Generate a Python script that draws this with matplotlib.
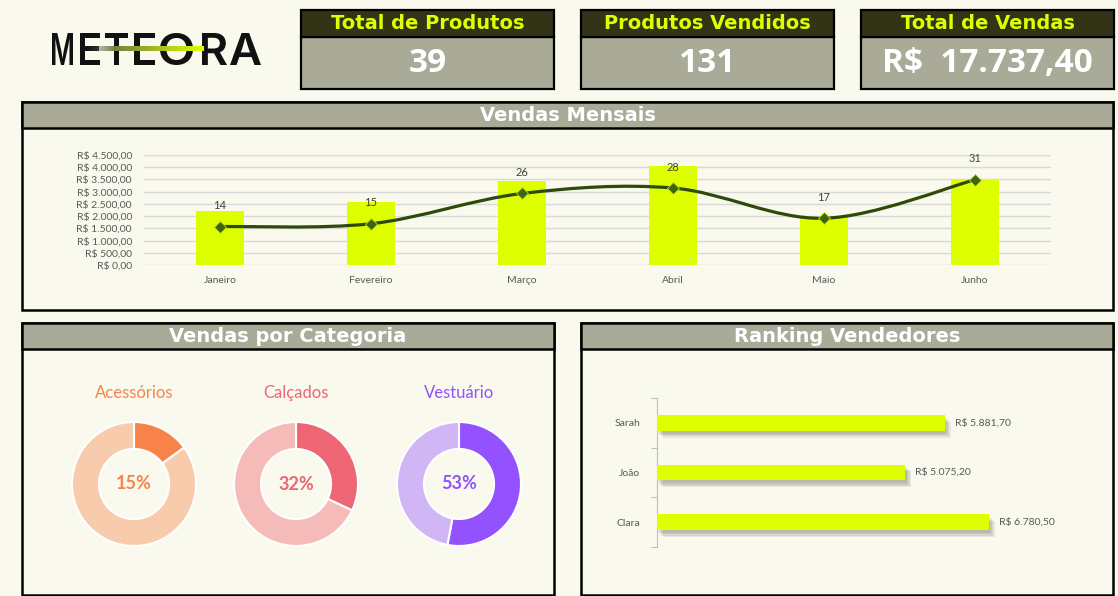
import numpy as np
import matplotlib
matplotlib.use("Agg")
from matplotlib import pyplot as plt
from matplotlib.patches import Rectangle, PathPatch
from matplotlib.path import Path
from matplotlib.textpath import TextPath
from matplotlib.font_manager import FontProperties
from matplotlib.transforms import Affine2D
from matplotlib import patheffects as pe

# dados do painel
total_produtos = "39"
produtos_vendidos = "131"
total_vendas = "R$  17.737,40"

meses = ["Janeiro", "Fevereiro", "Março", "Abril", "Maio", "Junho"]
vendas_mes = [2210.50, 2590.80, 3440.20, 4055.60, 1950.00, 3490.30]
qtd_mes = [14, 15, 26, 28, 17, 31]
yticks_mes = [0, 500, 1000, 1500, 2000, 2500, 3000, 3500, 4000, 4500]

categorias = ["Acessórios", "Calçados", "Vestuário"]
perc_categoria = [15, 32, 53]
cores_escuras = ["#F8834A", "#EE6673", "#9452FF"]
cores_claras = ["#F9CBAD", "#F5BBB9", "#D1B6F5"]

vendedores = ["Sarah", "João", "Clara"]
vendas_vendedor = [5881.70, 5075.20, 6780.50]

BG = "#F9F9ED"
CINZA = "#AAAA98"
ESCURO = "#333316"
AMARELO = "#DDFF00"
TXT = "#595959"
W, H = 1118, 596


def brl(v, esp=" "):
    s = f"{v:,.2f}".replace(",", "X").replace(".", ",").replace("X", ".")
    return "R$" + esp + s


fig = plt.figure(figsize=(W / 100, H / 100), dpi=100, facecolor=BG)
bg = fig.add_axes([0, 0, 1, 1])
bg.axis("off")


def ax_px(x0, y0, x1, y1):
    return fig.add_axes([x0 / W, 1 - y1 / H, (x1 - x0) / W, (y1 - y0) / H])


def caixa(x0, y0, x1, y1, fc, lw=1.6):
    bg.add_patch(Rectangle((x0, y0), x1 - x0, y1 - y0, fc=fc, ec="black", lw=lw))


# logo: cada letra ajustada a sua caixa
fp = FontProperties(family="Inter", weight="semibold")
caixas_logo = [(52, 73), (80, 100), (105, 128), (134, 155), (160, 193), (202, 227), (230, 261)]
for letra, (lx0, lx1) in zip("METEORA", caixas_logo):
    tp = TextPath((0, 0), letra, size=40, prop=fp)
    ext = tp.get_extents()
    tr = (Affine2D().translate(-ext.x0, -ext.y0)
          .scale((lx1 - lx0) / ext.width, -(65 - 33) / ext.height)
          .translate(lx0, 65))
    bg.add_patch(PathPatch(tr.transform_path(tp), fc="#111111", ec="none"))
grad = np.zeros((1, 200, 4))
t = np.linspace(0, 1, 200)
c0 = np.array([0.33, 0.33, 0.33])
c1 = np.array([0.87, 1.0, 0.0])
grad[0, :, :3] = c0 + (c1 - c0) * t[:, None]
grad[0, :, 3] = np.clip(t * 4, 0, 1)
bg.imshow(grad, extent=(86, 204, 51, 46), aspect="auto", zorder=5)
bg.set_xlim(0, W)
bg.set_ylim(H, 0)

# KPIs
kpis = [("Total de Produtos", total_produtos), ("Produtos Vendidos", produtos_vendidos),
        ("Total de Vendas", total_vendas)]
for (titulo, valor), x0 in zip(kpis, [301, 581, 861]):
    caixa(x0, 37, x0 + 253, 89, CINZA)
    caixa(x0, 10, x0 + 253, 37, ESCURO)
    bg.text(x0 + 126.5, 23.5, titulo, fontsize=14, family="DejaVu Sans", weight="bold",
            color=AMARELO, ha="center", va="center")
    bg.text(x0 + 126.5, 64, valor, fontsize=24, family="Open Sans", weight="bold",
            color="white", ha="center", va="center")

# paineis
paineis = [((22, 102, 1113, 310, 128), "Vendas Mensais"),
           ((22, 323, 554, 595, 349), "Vendas por Categoria"),
           ((581, 323, 1113, 595, 349), "Ranking Vendedores")]
for (x0, y0, x1, y1, yh), titulo in paineis:
    caixa(x0, y0, x1, y1, BG, lw=1.8)
    caixa(x0, y0, x1, yh, CINZA, lw=1.8)
    bg.text((x0 + x1) / 2, (y0 + yh) / 2 + 0.5, titulo, fontsize=14, family="DejaVu Sans",
            weight="bold", color="white", ha="center", va="center")

# vendas mensais
ax = ax_px(144.5, 155, 1050.5, 265)
ax.set_facecolor("none")
x = np.arange(len(meses))
ax.bar(x, vendas_mes, width=0.32, color=AMARELO, zorder=2)
ax.set_xlim(-0.5, len(meses) - 0.5)
ax.set_ylim(0, 4500)
ax.set_yticks(yticks_mes)
ax.set_yticklabels([brl(v) for v in yticks_mes], fontsize=7.5, family="Lato", color=TXT)
ax.set_xticks(x)
ax.set_xticklabels(meses, fontsize=7.5, family="Lato", color=TXT)
ax.tick_params(length=0, pad=8)
ax.tick_params(axis="y", pad=9)
ax.grid(axis="y", color="#D9D9D9", lw=1, zorder=0)
for s in ax.spines.values():
    s.set_visible(False)

ax2 = ax.twinx()
ax2.set_ylim(0, 40)
ax2.axis("off")
# linha suavizada (bezier como no Excel)
pts = np.column_stack([x, qtd_mes]).astype(float)
verts = [pts[0]]
codes = [Path.MOVETO]
n = len(pts)
for i in range(n - 1):
    p_prev = pts[max(i - 1, 0)]
    p_next2 = pts[min(i + 2, n - 1)]
    c1p = pts[i] + (pts[i + 1] - p_prev) / 6
    c2p = pts[i + 1] - (p_next2 - pts[i]) / 6
    verts += [c1p, c2p, pts[i + 1]]
    codes += [Path.CURVE4] * 3
ax2.add_patch(PathPatch(Path(verts, codes), fc="none", ec="#2E4A0A", lw=2.3, zorder=3))
ax2.plot(x, qtd_mes, ls="none", marker="D", ms=6.5, mfc="#3D6410", mec="#C8E000",
         mew=0.6, zorder=4)
for xi, q in zip(x, qtd_mes):
    ax2.annotate(str(q), (xi, q), xytext=(0, 11), textcoords="offset points",
                 ha="center", va="bottom", fontsize=8, family="Lato", color="#404040")

# vendas por categoria
for i, (cat, p) in enumerate(zip(categorias, perc_categoria)):
    cx = [134, 296, 459][i]
    cy = 484
    r = 62
    axd = ax_px(cx - r, cy - r, cx + r, cy + r)
    axd.pie([p, 100 - p], colors=[cores_escuras[i], cores_claras[i]], startangle=90,
            counterclock=False, radius=1,
            wedgeprops=dict(width=0.435, edgecolor="white", linewidth=1.5))
    axd.set_xlim(-1, 1)
    axd.set_ylim(-1, 1)
    axd.set_aspect("equal")
    axd.text(0, 0, f"{p}%", fontsize=13, family="Lato", weight="bold",
             color=cores_escuras[i], ha="center", va="center")
    bg.text(cx, 393, cat, fontsize=12, family="Lato", color=cores_escuras[i],
            ha="center", va="center")

# ranking vendedores
axr = ax_px(657, 398, 1048.7, 547)
axr.set_facecolor("none")
yv = np.arange(len(vendedores))
bars = axr.barh(yv, vendas_vendedor, height=0.32, color=AMARELO, zorder=3)
sombra = [pe.SimplePatchShadow(offset=(o, -o - 1), shadow_rgbFace="#444444", alpha=0.1)
          for o in (1, 2, 3, 4)]
for b in bars:
    b.set_path_effects(sombra + [pe.Normal()])
axr.set_xlim(0, 8000)
axr.set_ylim(len(vendedores) - 0.5, -0.5)
axr.set_yticks(np.arange(-0.5, len(vendedores)))
axr.set_yticklabels([])
axr.set_yticks(yv, minor=True)
axr.set_yticklabels(vendedores, minor=True, fontsize=7.5, family="Lato", color=TXT)
axr.tick_params(axis="y", which="major", length=4, color="#BFBFBF")
axr.tick_params(axis="y", which="minor", length=0, pad=12)
axr.set_xticks([])
for k, s in axr.spines.items():
    s.set_visible(k == "left")
axr.spines["left"].set_color("#BFBFBF")
for yi, v in zip(yv, vendas_vendedor):
    axr.annotate(brl(v), (v, yi), xytext=(7, 0), textcoords="offset points",
                 ha="left", va="center", fontsize=7.5, family="Lato", color=TXT)

fig.savefig("out.png", dpi=100, facecolor=BG)
